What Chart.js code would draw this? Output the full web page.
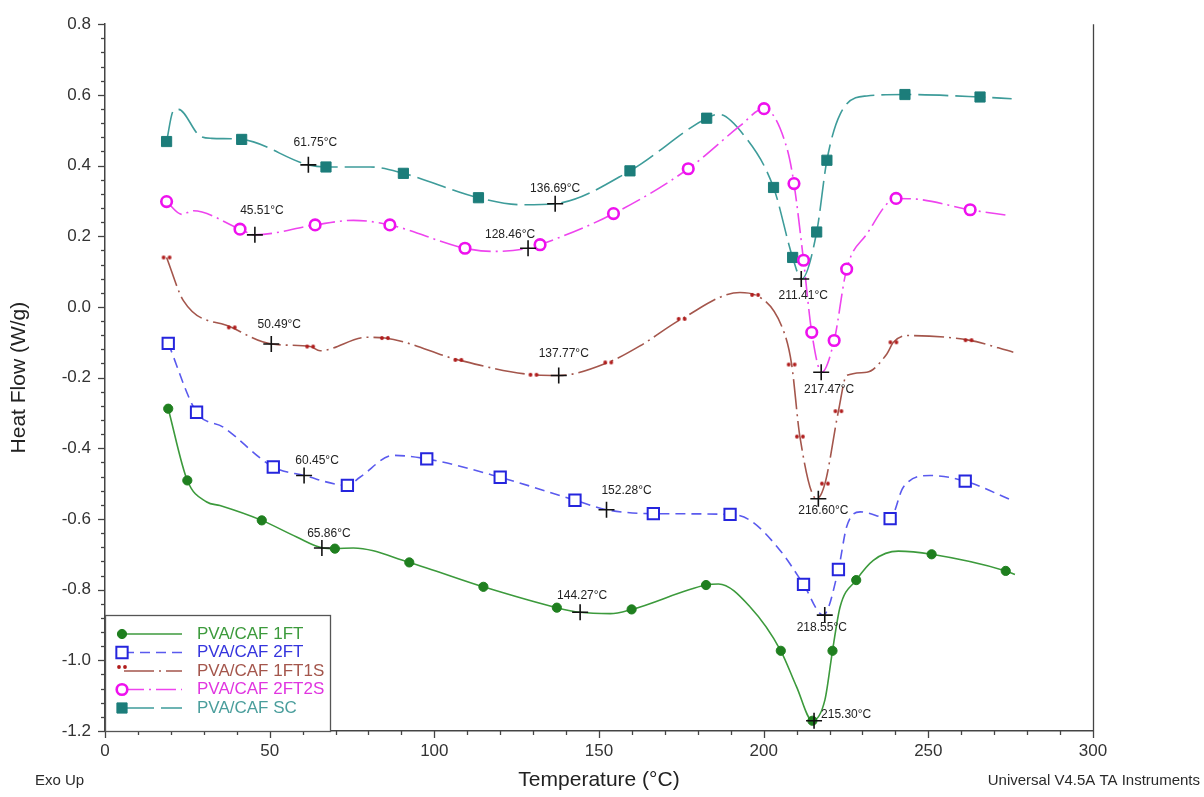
<!DOCTYPE html>
<html>
<head>
<meta charset="utf-8">
<title>DSC PVA/CAF</title>
<script src="https://cdn.jsdelivr.net/npm/chart.js@4.4.0/dist/chart.umd.min.js"></script>
<style>
  html, body { margin: 0; padding: 0; background: #fff; }
</style>
</head>
<body>
<canvas id="dscChart" width="1204" height="797"></canvas>
<script>
const seriesNames = ['PVA/CAF 1FT', 'PVA/CAF 2FT', 'PVA/CAF 1FT1S', 'PVA/CAF 2FT2S', 'PVA/CAF SC'];

// PVA/CAF 1FT
const ft1T  = [19.2, 25.0, 30.9, 34.9, 47.6, 58.2, 66.1, 69.8, 75.4, 92.4, 114.9, 137.2, 144.2, 153.4, 159.9, 182.5, 186.3, 195.9, 205.2, 210.0, 214.8, 218.6, 220.9, 223.2, 228.1, 233.3, 240.9, 251.0, 273.5, 276.3];
const ft1HF = [-0.288, -0.491, -0.552, -0.562, -0.604, -0.651, -0.682, -0.684, -0.682, -0.723, -0.792, -0.851, -0.864, -0.868, -0.856, -0.787, -0.784, -0.849, -0.973, -1.075, -1.171, -1.112, -0.973, -0.849, -0.773, -0.717, -0.691, -0.700, -0.747, -0.757];
const ft1Marks = [0, 1, 4, 7, 9, 10, 11, 14, 15, 18, 20, 22, 24, 27, 28];

// PVA/CAF 2FT
const ft2T  = [19.2, 27.8, 35.9, 51.1, 60.4, 73.6, 77.4, 87.6, 97.7, 120.0, 142.7, 152.4, 166.5, 189.8, 195.9, 205.0, 212.1, 218.1, 222.7, 225.2, 229.3, 238.4, 242.4, 250.5, 261.2, 275.3];
const ft2HF = [-0.103, -0.298, -0.340, -0.453, -0.477, -0.505, -0.482, -0.420, -0.430, -0.482, -0.547, -0.574, -0.585, -0.587, -0.604, -0.689, -0.785, -0.872, -0.743, -0.622, -0.580, -0.599, -0.510, -0.477, -0.493, -0.547];
const ft2Marks = [0, 1, 3, 5, 8, 9, 10, 12, 13, 16, 18, 21, 24];

// PVA/CAF 1FT1S
const ft1s1T  = [18.7, 23.8, 38.5, 50.6, 62.3, 65.3, 79.5, 85.0, 107.3, 130.1, 137.7, 152.8, 162.5, 175.1, 192.8, 197.4, 206.0, 208.5, 211.0, 216.1, 218.6, 222.7, 225.2, 231.3, 237.4, 239.4, 243.4, 262.2, 275.8];
const ft1s1HF = [0.140, 0.018, -0.058, -0.105, -0.112, -0.124, -0.086, -0.088, -0.150, -0.192, -0.194, -0.157, -0.110, -0.034, 0.041, 0.034, -0.067, -0.163, -0.367, -0.543, -0.500, -0.295, -0.194, -0.185, -0.133, -0.100, -0.081, -0.094, -0.128];
const ft1s1Marks = [0, 2, 4, 7, 8, 9, 11, 13, 15, 17, 18, 20, 21, 25, 27];

// PVA/CAF 2FT2S
const ft2s2T  = [18.7, 23.3, 26.8, 41.0, 45.6, 63.8, 75.4, 86.5, 109.3, 117.9, 128.6, 132.1, 154.4, 177.1, 192.8, 200.1, 207.0, 209.2, 212.1, 214.6, 217.6, 221.4, 225.2, 231.3, 240.2, 246.5, 262.7, 274.8];
const ft2s2HF = [0.298, 0.262, 0.272, 0.220, 0.204, 0.232, 0.245, 0.232, 0.166, 0.157, 0.166, 0.176, 0.264, 0.391, 0.512, 0.561, 0.451, 0.349, 0.132, -0.072, -0.185, -0.095, 0.107, 0.206, 0.307, 0.305, 0.275, 0.258];
const ft2s2Marks = [0, 3, 5, 7, 8, 11, 12, 13, 15, 17, 18, 19, 21, 22, 24, 26];

// PVA/CAF SC
const scT  = [18.7, 20.7, 22.3, 28.8, 32.4, 41.5, 61.7, 67.1, 80.5, 90.6, 113.4, 127.0, 136.7, 159.4, 182.7, 186.3, 193.8, 203.0, 208.8, 211.5, 216.1, 219.2, 223.2, 231.3, 242.9, 265.7, 275.3];
const scHF = [0.468, 0.554, 0.559, 0.484, 0.477, 0.474, 0.402, 0.396, 0.396, 0.378, 0.309, 0.289, 0.292, 0.385, 0.534, 0.545, 0.488, 0.338, 0.140, 0.079, 0.212, 0.415, 0.545, 0.597, 0.601, 0.594, 0.589];
const scMarks = [0, 5, 7, 9, 10, 13, 14, 17, 18, 20, 21, 24, 25];

// peak / onset markers
const crossT  = [61.75, 136.69, 45.51, 128.46, 50.49, 137.77, 60.45, 152.28, 65.86, 144.27, 211.41, 217.47, 216.60, 218.55, 215.30];
const crossHF = [0.402, 0.292, 0.204, 0.166, -0.105, -0.194, -0.477, -0.574, -0.682, -0.864, 0.079, -0.185, -0.543, -0.872, -1.171];
const crossLabels = crossT.map(t => t.toFixed(2) + '°C');

// axis
const xMin = 0, xMax = 300, xStep = 50;
const yMin = -1.2, yMax = 0.8, yStep = 0.2;

// label offsets from the cross (px)
const crossLabelOffset = [[7,-22],[0,-15],[7,-24],[-18,-14],[8,-19],[5,-22],[13,-15],[20,-19],[7,-14],[2,-17],[2,17],[8,17],[5,12],[-3,13],[7,-6,'left']];

function pts(xs, ys) { return xs.map((x, i) => ({ x: x, y: ys[i] })); }
function pick(xs, ys, idx) { return idx.map(i => ({ x: xs[i], y: ys[i] })); }

function twoDots(color) {
  const c = document.createElement('canvas');
  c.width = 12; c.height = 6;
  const g = c.getContext('2d');
  g.fillStyle = color;
  [3, 9].forEach(cx => { g.beginPath(); g.arc(cx, 3, 1.9, 0, Math.PI * 2); g.fill(); });
  return c;
}

const styles = [
  { line: '#3c9a3c', dash: [], mark: '#1f7f1f', fill: '#1f7f1f', ps: 'circle', r: 4.6, bw: 1, text: '#3c9a3c' },
  { line: '#5a5aee', dash: [10, 6], mark: '#2525dd', fill: '#ffffff', ps: 'rect', r: 8, bw: 2, text: '#3535dd' },
  { line: '#a4564c', dash: [30, 5, 2, 5], mark: '#b01c1c', fill: '#b01c1c', ps: twoDots('#b01c1c'), r: 6, bw: 0, text: '#a4564c' },
  { line: '#ee44ee', dash: [20, 5, 2, 5], mark: '#ee11ee', fill: '#ffffff', ps: 'circle', r: 5.3, bw: 2.6, text: '#e035e0' },
  { line: '#3e9c9a', dash: [30, 7], mark: '#1c7d7a', fill: '#1c7d7a', ps: 'rect', r: 7.2, bw: 1, text: '#4a9e9c' }
];

const curves = [pts(ft1T, ft1HF), pts(ft2T, ft2HF), pts(ft1s1T, ft1s1HF), pts(ft2s2T, ft2s2HF), pts(scT, scHF)];
const marks = [pick(ft1T, ft1HF, ft1Marks), pick(ft2T, ft2HF, ft2Marks), pick(ft1s1T, ft1s1HF, ft1s1Marks), pick(ft2s2T, ft2s2HF, ft2s2Marks), pick(scT, scHF, scMarks)];

const datasets = [{
  label: 'cross',
  data: pts(crossT, crossHF),
  showLine: false,
  pointStyle: 'cross',
  pointRadius: 8,
  borderColor: '#111',
  borderWidth: 1.6,
  order: 0
}];
styles.forEach((s, i) => {
  datasets.push({
    label: seriesNames[i] + ' marks',
    data: marks[i],
    showLine: false,
    pointStyle: s.ps,
    pointRadius: s.r,
    borderColor: s.mark,
    backgroundColor: s.fill,
    borderWidth: s.bw,
    order: 1
  });
  datasets.push({
    label: seriesNames[i],
    data: curves[i],
    showLine: true,
    borderColor: s.line,
    borderDash: s.dash,
    borderWidth: 1.6,
    pointRadius: 0,
    cubicInterpolationMode: 'monotone',
    fill: false,
    order: 2
  });
});

const decor = {
  id: 'decor',
  afterDraw(chart) {
    const ctx = chart.ctx;
    const a = chart.chartArea;
    const xs = chart.scales.x, ys = chart.scales.y;
    ctx.save();
    ctx.strokeStyle = '#444';
    ctx.lineWidth = 1.3;
    // tick marks
    for (let v = xMin; v <= xMax; v += 10) {
      const px = Math.round(xs.getPixelForValue(v)) + 0.5;
      const len = v % xStep === 0 ? 7 : 4;
      ctx.beginPath(); ctx.moveTo(px, a.bottom); ctx.lineTo(px, a.bottom + len); ctx.stroke();
    }
    for (let k = 0; k <= 50; k++) {
      const v = yMin + k * 0.04;
      const py = Math.round(ys.getPixelForValue(v)) + 0.5;
      const len = k % 5 === 0 ? 7 : 4;
      ctx.beginPath(); ctx.moveTo(a.left, py); ctx.lineTo(a.left - len, py); ctx.stroke();
    }
    // right border
    ctx.beginPath(); ctx.moveTo(a.right + 0.5, a.top); ctx.lineTo(a.right + 0.5, a.bottom); ctx.stroke();

    // cross labels
    ctx.fillStyle = '#222';
    ctx.font = '12px Arial, "Liberation Sans", sans-serif';
    ctx.textBaseline = 'middle';
    crossT.forEach((t, i) => {
      const o = crossLabelOffset[i];
      ctx.textAlign = o[2] || 'center';
      ctx.fillText(crossLabels[i], xs.getPixelForValue(t) + o[0], ys.getPixelForValue(crossHF[i]) + o[1]);
    });

    // legend box
    const bx = a.left, by = 615, bw = 330 - a.left, bh = a.bottom - by;
    ctx.fillStyle = '#fff';
    ctx.fillRect(bx, by, bw, bh);
    ctx.strokeStyle = '#555';
    ctx.lineWidth = 1.3;
    ctx.strokeRect(bx + 0.5, by + 0.5, bw, bh);
    styles.forEach((s, i) => {
      const y = 634 + i * 18.5;
      ctx.save();
      ctx.strokeStyle = s.line;
      ctx.lineWidth = 1.6;
      ctx.setLineDash(s.dash);
      ctx.beginPath(); ctx.moveTo(124, y); ctx.lineTo(182, y); ctx.stroke();
      ctx.restore();
      ctx.fillStyle = s.fill; ctx.strokeStyle = s.mark; ctx.lineWidth = s.bw;
      if (typeof s.ps === 'string') {
        ctx.beginPath();
        if (s.ps === 'circle') ctx.arc(122, y, s.r, 0, Math.PI * 2);
        else { const h = s.r * Math.SQRT1_2; ctx.rect(122 - h, y - h, 2 * h, 2 * h); }
        ctx.fill();
        if (s.bw) ctx.stroke();
      } else {
        ctx.drawImage(s.ps, 122 - s.ps.width / 2, y - 4 - s.ps.height / 2);
      }
      ctx.fillStyle = s.text;
      ctx.font = '17px Arial, "Liberation Sans", sans-serif';
      ctx.textAlign = 'left';
      ctx.textBaseline = 'middle';
      ctx.fillText(seriesNames[i], 197, y);
    });

    // corner notes
    ctx.fillStyle = '#2a2a2a';
    ctx.font = '15px Arial, "Liberation Sans", sans-serif';
    ctx.textBaseline = 'middle';
    ctx.textAlign = 'left';
    ctx.fillText('Exo Up', 35, 781);
    ctx.textAlign = 'right';
    ctx.fillText('Universal V4.5A TA Instruments', 1200, 781);
    ctx.restore();
  }
};

Chart.defaults.font.family = 'Arial, "Liberation Sans", sans-serif';
Chart.defaults.color = '#333';

new Chart(document.getElementById('dscChart'), {
  type: 'scatter',
  data: { datasets: datasets },
  options: {
    responsive: false,
    animation: false,
    devicePixelRatio: 1,
    layout: { padding: { left: 0, right: 111, top: 23, bottom: 0 } },
    plugins: { legend: { display: false }, tooltip: { enabled: false } },
    scales: {
      x: {
        type: 'linear', min: xMin, max: xMax,
        grid: { display: false, drawTicks: false },
        border: { display: true, color: '#444', width: 1.5 },
        ticks: { stepSize: xStep, padding: 10, font: { size: 17 }, color: '#333', maxRotation: 0 },
        title: { display: true, text: 'Temperature (°C)', font: { size: 21 }, color: '#222', padding: { top: 0, bottom: 4 } },
        afterFit(scale) { scale.height = 66; }
      },
      y: {
        type: 'linear', min: yMin, max: yMax,
        grid: { display: false, drawTicks: false },
        border: { display: true, color: '#444', width: 1.5 },
        ticks: { stepSize: yStep, padding: 14, font: { size: 17 }, color: '#333', callback: v => v.toFixed(1) },
        title: { display: true, text: 'Heat Flow (W/g)', font: { size: 21 }, color: '#222', padding: { top: 7, bottom: 0 } },
        afterFit(scale) { scale.width = 105; }
      }
    }
  },
  plugins: [decor]
});
</script>
</body>
</html>
